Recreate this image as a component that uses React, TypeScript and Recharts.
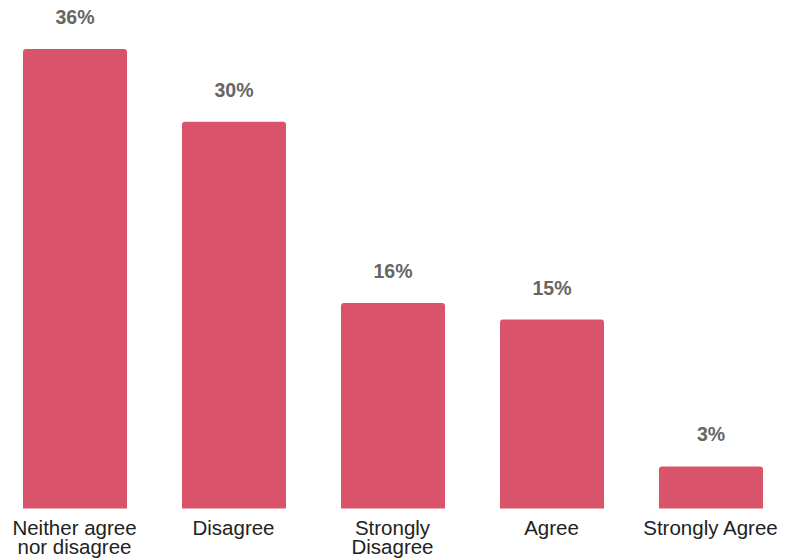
import React from "react";
import { BarChart, Bar, XAxis, YAxis, LabelList } from "recharts";

const categories = ["Neither agree nor disagree", "Disagree", "Strongly Disagree", "Agree", "Strongly Agree"];
const tickLines = [["Neither agree", "nor disagree"], ["Disagree"], ["Strongly", "Disagree"], ["Agree"], ["Strongly Agree"]];
const values = [36, 30.3, 16.1, 14.8, 3.3];
const labels = ["36%", "30%", "16%", "15%", "3%"];

const data = categories.map((c, i) => ({ name: c, value: values[i], label: labels[i], idx: i }));

const Tick = (props: any) => {
  const { x, y, index } = props;
  const lines = tickLines[index] || [];
  return (
    <text x={x} y={y} textAnchor="middle" fill="#222" fontSize={20.5} fontFamily="'Liberation Sans', Arial, sans-serif">
      {lines.map((l, i) => (
        <tspan key={i} x={x} y={y + 26.5 + i * 19}>{l}</tspan>
      ))}
    </text>
  );
};

export default function App() {
  return (
    <div style={{ position: "absolute", left: -5, top: 0 }}>
      <BarChart width={795} height={558} data={data} margin={{ top: 49, right: 0, bottom: 0, left: 0 }} barCategoryGap="17%">
        <XAxis dataKey="name" height={49.5} axisLine={false} tickLine={false} tickSize={0} tickMargin={0} interval={0} tick={<Tick />} />
        <YAxis hide domain={[0, 36]} />
        <Bar dataKey="value" fill="#D9536A" barSize={104} radius={[3, 3, 0, 0]} isAnimationActive={false}>
          <LabelList dataKey="label" position="top" offset={25} fill="#666" fontSize={19.5} fontWeight="bold" fontFamily="'Liberation Sans', Arial, sans-serif" />
        </Bar>
      </BarChart>
    </div>
  );
}
